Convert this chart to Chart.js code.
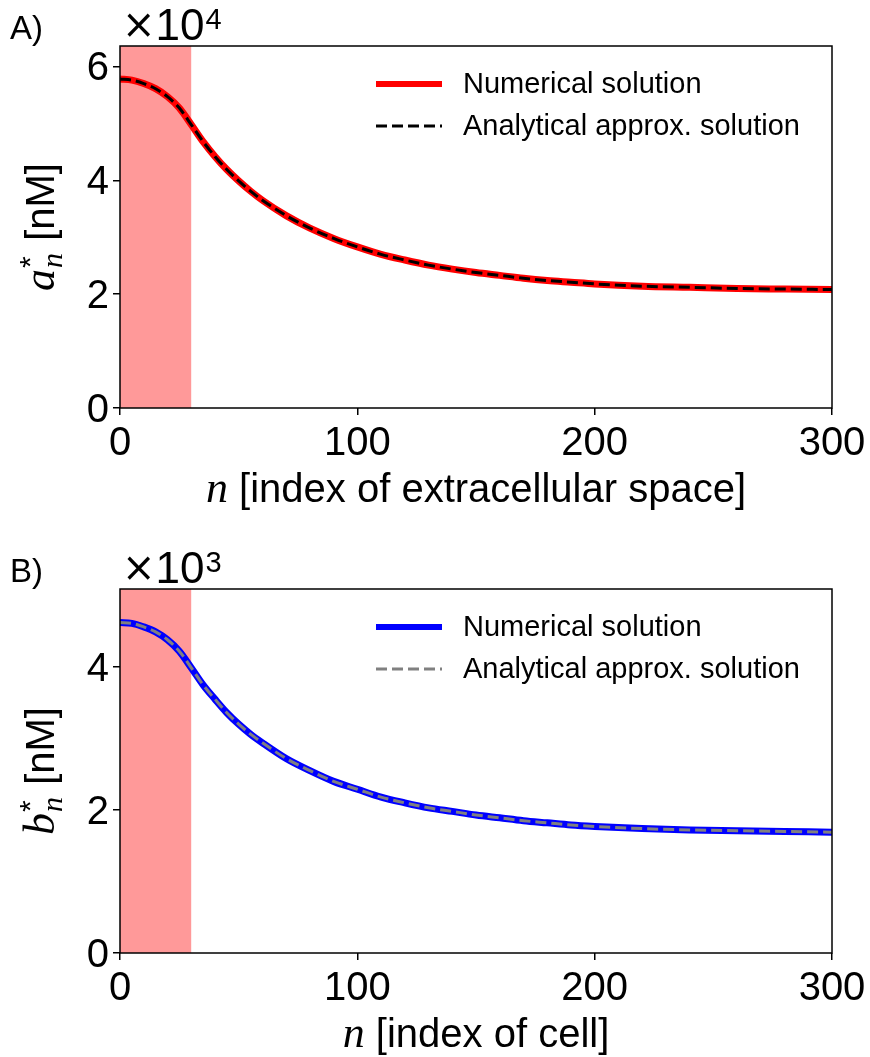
<!DOCTYPE html>
<html>
<head>
<meta charset="utf-8">
<script src="https://cdn.jsdelivr.net/npm/chart.js@4.4.0/dist/chart.umd.min.js"></script>
<style>
    body { margin: 0; background: #fff; }
    canvas { position: absolute; left: 0; }
    #chartA { top: 0; }
    #chartB { top: 530px; }
</style>
</head>
<body>
<canvas id="chartA" width="870" height="530"></canvas>
<canvas id="chartB" width="870" height="527"></canvas>
<script>
const nValues = [0, 5, 10, 15, 20, 25, 30, 35, 40, 45, 50, 55, 60, 70, 80, 90, 100,
    110, 120, 130, 140, 150, 160, 170, 180, 190, 200, 220, 240, 260, 280, 300];

// extracellular concentration a*_n, in units of 1e4 nM
const aNumerical = [5.78, 5.76, 5.70, 5.61, 5.47, 5.27, 4.98, 4.68, 4.42, 4.19, 3.99, 3.81, 3.65,
    3.38, 3.16, 2.98, 2.83, 2.70, 2.60, 2.51, 2.44, 2.38, 2.33, 2.28, 2.24, 2.21, 2.18,
    2.14, 2.12, 2.10, 2.09, 2.08];
const aAnalytical = [5.78, 5.76, 5.70, 5.61, 5.47, 5.27, 4.98, 4.68, 4.42, 4.19, 3.99, 3.81, 3.65,
    3.38, 3.16, 2.98, 2.83, 2.70, 2.60, 2.51, 2.44, 2.38, 2.33, 2.28, 2.24, 2.21, 2.18,
    2.14, 2.12, 2.10, 2.09, 2.08];

// cell concentration b*_n, in units of 1e3 nM
const bNumerical = [4.62, 4.61, 4.56, 4.49, 4.38, 4.22, 3.99, 3.75, 3.55, 3.36, 3.20, 3.06, 2.94,
    2.72, 2.55, 2.40, 2.29, 2.18, 2.10, 2.03, 1.98, 1.93, 1.89, 1.85, 1.82, 1.79, 1.77,
    1.74, 1.72, 1.71, 1.70, 1.69];
const bAnalytical = [4.62, 4.61, 4.56, 4.49, 4.38, 4.22, 3.99, 3.75, 3.55, 3.36, 3.20, 3.06, 2.94,
    2.72, 2.55, 2.40, 2.29, 2.18, 2.10, 2.03, 1.98, 1.93, 1.89, 1.85, 1.82, 1.79, 1.77,
    1.74, 1.72, 1.71, 1.70, 1.69];

// axis ticks and the shaded source region
const xTicks = [0, 100, 200, 300];
const aTicks = [0, 2, 4, 6];
const bTicks = [0, 2, 4];
const sourceRegion = [0, 30];

const SANS = '"Liberation Sans", Arial, sans-serif';
const SERIF = '"Liberation Serif", "DejaVu Serif", serif';

function toPoints(values) {
    return nValues.map((n, i) => ({ x: n, y: values[i] }));
}

// Draws a*_n [nM] style label, rotated
function drawYTitle(ctx, cx, cy, letter) {
    ctx.save();
    ctx.translate(cx, cy);
    ctx.rotate(-Math.PI / 2);
    ctx.textBaseline = 'alphabetic';
    ctx.textAlign = 'left';
    const fMain = `italic 44px ${SERIF}`;
    const fSub = `italic 30px ${SERIF}`;
    const fStar = `30px ${SANS}`;
    const fText = `40px ${SANS}`;
    ctx.font = fMain;
    const wL = ctx.measureText(letter).width;
    ctx.font = fSub;
    const wS = ctx.measureText('n').width;
    ctx.font = fText;
    const wT = ctx.measureText(' [nM]').width;
    let px = -(wL + wS + 2 + wT) / 2;
    const base = 14;
    ctx.font = fMain;
    ctx.fillText(letter, px, base);
    px += wL + 1;
    ctx.font = fStar;
    ctx.fillText('*', px, base - 14);
    ctx.font = fSub;
    ctx.fillText('n', px, base + 8);
    px += wS + 1;
    ctx.font = fText;
    ctx.fillText(' [nM]', px, base);
    ctx.restore();
}

function drawXTitle(ctx, cx, base, text) {
    ctx.save();
    ctx.textBaseline = 'alphabetic';
    ctx.textAlign = 'left';
    ctx.font = `italic 44px ${SERIF}`;
    const wn = ctx.measureText('n').width;
    ctx.font = `40px ${SANS}`;
    const wt = ctx.measureText(text).width;
    let px = cx - (wn + wt) / 2;
    ctx.font = `italic 44px ${SERIF}`;
    ctx.fillText('n', px, base);
    ctx.font = `40px ${SANS}`;
    ctx.fillText(text, px + wn, base);
    ctx.restore();
}

function panelDecor(cfg) {
    return {
        id: 'decor' + cfg.panel,
        beforeDatasetsDraw(chart) {
            const { ctx, chartArea: area, scales: { x } } = chart;
            const x0 = x.getPixelForValue(sourceRegion[0]);
            const x1 = x.getPixelForValue(sourceRegion[1]);
            ctx.save();
            ctx.fillStyle = 'rgba(255, 0, 0, 0.4)';
            ctx.fillRect(x0, area.top, x1 - x0, area.bottom - area.top);
            ctx.restore();
        },
        afterDraw(chart) {
            const { ctx, chartArea: area, scales: { x, y } } = chart;
            ctx.save();
            ctx.strokeStyle = '#000';
            ctx.lineWidth = 1.5;
            ctx.strokeRect(area.left, area.top, area.right - area.left, area.bottom - area.top);

            // tick labels
            ctx.fillStyle = '#000';
            ctx.font = `40px ${SANS}`;
            ctx.textBaseline = 'alphabetic';
            ctx.textAlign = 'center';
            xTicks.forEach(v => ctx.fillText(String(v), x.getPixelForValue(v), area.bottom + 47));
            ctx.textAlign = 'right';
            cfg.yTicks.forEach(v => ctx.fillText(String(v), area.left - 11, y.getPixelForValue(v) + 14));

            // panel letter and offset text
            ctx.textAlign = 'left';
            ctx.font = `33px ${SANS}`;
            ctx.fillText(cfg.panel + ')', 10, area.top - 7);
            ctx.font = `40px "DejaVu Sans", ${SANS}`;
            ctx.fillText('\u00d7', area.left + 2, area.top - 8);
            let px = area.left + 2 + ctx.measureText('\u00d7').width;
            ctx.font = `44px ${SANS}`;
            ctx.fillText('10', px, area.top - 6);
            px += ctx.measureText('10').width;
            ctx.font = `29px ${SANS}`;
            ctx.fillText(cfg.exponent, px + 1, area.top - 17);

            // axis titles
            drawXTitle(ctx, (area.left + area.right) / 2, area.bottom + 94, cfg.xTitle);
            drawYTitle(ctx, 40, (area.top + area.bottom) / 2, cfg.yLetter);

            // legend
            ctx.font = `29px ${SANS}`;
            ctx.textBaseline = 'middle';
            const items = chart.data.datasets.slice().sort((a, b) => b.order - a.order);
            items.forEach((ds, i) => {
                const yy = area.top + cfg.legendTop + i * 42;
                ctx.save();
                ctx.strokeStyle = ds.borderColor;
                ctx.lineWidth = ds.legendWidth;
                ctx.setLineDash(ds.borderDash || []);
                ctx.beginPath();
                ctx.moveTo(376, yy);
                ctx.lineTo(442, yy);
                ctx.stroke();
                ctx.restore();
                ctx.fillText(ds.label, 463, yy + 1);
            });
            ctx.restore();
        }
    };
}

function buildChart(canvasId, cfg) {
    const axisLine = {
        display: true,
        drawOnChartArea: false,
        drawTicks: true,
        tickLength: 7,
        color: '#000',
        lineWidth: 1.5
    };
    return new Chart(document.getElementById(canvasId), {
        type: 'scatter',
        data: {
            datasets: [
                {
                    label: 'Numerical solution',
                    data: toPoints(cfg.numerical),
                    showLine: true,
                    borderColor: cfg.lineColor,
                    borderWidth: 7,
                    legendWidth: 6,
                    pointRadius: 0,
                    cubicInterpolationMode: 'monotone',
                    order: 2
                },
                {
                    label: 'Analytical approx. solution',
                    data: toPoints(cfg.analytical),
                    showLine: true,
                    borderColor: cfg.dashColor,
                    borderWidth: 3,
                    legendWidth: 3,
                    borderDash: [11, 5],
                    pointRadius: 0,
                    cubicInterpolationMode: 'monotone',
                    order: 1
                }
            ]
        },
        options: {
            responsive: false,
            animation: false,
            events: [],
            layout: { padding: { top: cfg.top, right: 38, left: 0, bottom: 0 } },
            plugins: { legend: { display: false }, tooltip: { enabled: false } },
            scales: {
                x: {
                    type: 'linear',
                    min: 0,
                    max: 300,
                    grid: axisLine,
                    border: { display: false },
                    ticks: { display: false },
                    afterBuildTicks: scale => { scale.ticks = xTicks.map(v => ({ value: v })); },
                    afterFit: scale => { scale.height = cfg.xHeight; }
                },
                y: {
                    type: 'linear',
                    min: 0,
                    max: cfg.yMax,
                    grid: axisLine,
                    border: { display: false },
                    ticks: { display: false },
                    afterBuildTicks: scale => { scale.ticks = cfg.yTicks.map(v => ({ value: v })); },
                    afterFit: scale => { scale.width = 120; }
                }
            }
        },
        plugins: [panelDecor(cfg)]
    });
}

buildChart('chartA', {
    panel: 'A',
    numerical: aNumerical,
    analytical: aAnalytical,
    lineColor: '#ff0000',
    dashColor: '#000000',
    yMax: 6.36,
    yTicks: aTicks,
    exponent: '4',
    yLetter: 'a',
    xTitle: ' [index of extracellular space]',
    top: 46,
    xHeight: 122,
    legendTop: 38
});

buildChart('chartB', {
    panel: 'B',
    numerical: bNumerical,
    analytical: bAnalytical,
    lineColor: '#0000ff',
    dashColor: '#808080',
    yMax: 5.09,
    yTicks: bTicks,
    exponent: '3',
    yLetter: 'b',
    xTitle: ' [index of cell]',
    top: 59,
    xHeight: 104,
    legendTop: 38
});
</script>
</body>
</html>
